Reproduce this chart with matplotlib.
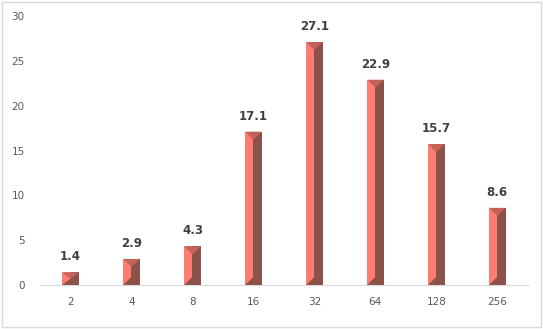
import numpy as np
import matplotlib.pyplot as plt
from matplotlib.patches import Polygon, Rectangle

categories = ["2", "4", "8", "16", "32", "64", "128", "256"]
values = [1.4, 2.9, 4.3, 17.1, 27.1, 22.9, 15.7, 8.6]
y_ticks = [0, 5, 10, 15, 20, 25, 30]

light = "#ff7d70"
dark = "#8b5249"
top_col = "#c4625a"
bar_w = 0.27

fig = plt.figure(figsize=(5.43, 3.29), dpi=100)
ax = fig.add_axes([0.0737, 0.134, 0.8983, 0.817])

x = np.arange(len(categories))
# whole bar in dark, left half light
ax.bar(x, values, width=bar_w, color=dark, linewidth=0, zorder=2)
ax.bar(x - bar_w / 4, values, width=bar_w / 2, color=light, linewidth=0, zorder=3)

# bevels on top and bottom of each bar
for xi, v in zip(x, values):
    hw = bar_w / 2
    d = min(0.9, v / 2)
    ax.add_patch(Polygon([(xi - hw, v), (xi + hw, v), (xi, v - d)],
                         closed=True, color=top_col, lw=0, zorder=4))
    ax.add_patch(Polygon([(xi - hw, 0), (xi + hw, 0), (xi, d)],
                         closed=True, color=dark, lw=0, zorder=4))
    ax.text(xi, v + 1.0, f"{v}", ha="center", va="bottom", fontsize=8.5,
            fontweight="bold", color="#404040", family="DejaVu Sans")

ax.set_xlim(-0.5, len(categories) - 0.5)
ax.set_ylim(0, 30)
ax.set_xticks(x)
ax.set_xticklabels(categories)
ax.set_yticks(y_ticks)
ax.tick_params(axis="both", length=0, labelsize=7.5, labelcolor="#595959")
ax.tick_params(axis="x", pad=9)
ax.tick_params(axis="y", pad=11)
for s in ["top", "right", "left"]:
    ax.spines[s].set_visible(False)
ax.spines["bottom"].set_color("#d9d9d9")

# light frame around whole chart
fig.patches.append(Rectangle((0.004, 0.006), 0.992, 0.988, transform=fig.transFigure,
                             fill=False, edgecolor="#d9d9d9", lw=1))

fig.savefig("out.png", dpi=100)
